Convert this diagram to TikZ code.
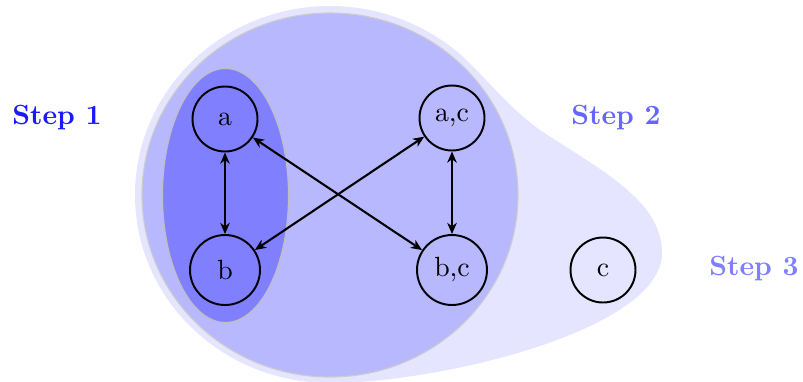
\documentclass[tikz,border=0pt]{standalone}
\usepackage{tikz}
\usetikzlibrary{arrows.meta}

\begin{document}
\begin{tikzpicture}[x=0.36pt,y=0.36pt,yscale=-1,xscale=1,
  state/.style={circle,draw,line width=0.7pt,minimum size=23.4pt,inner sep=0pt},
  tall/.style={minimum size=25.2pt},
  link/.style={{Stealth[length=4pt,width=3.4pt,inset=1.2pt]}-{Stealth[length=4pt,width=3.4pt,inset=1.2pt]},line width=0.75pt},
  steplabel/.style={font=\bfseries}]
\useasboundingbox (0,0) rectangle (803,381);

%Shape: Blob (step 3)
\fill [blue!10] (330,6) .. controls (222,6) and (135,91) .. (135,195) .. controls (135,299) and (222,383) .. (330,383) .. controls (440,383) and (662,330) .. (662,253) .. controls (662,200) and (600,170) .. (540,130) .. controls (505,105) and (480,70) .. (455,50) .. controls (420,22) and (376,6) .. (330,6) -- cycle;
%Shape: Ellipse (step 2)
\draw [draw=black!20,fill=blue!28,line width=0.4pt] (330,195) ellipse [x radius=188, y radius=182];
%Shape: Ellipse (step 1)
\draw [draw=black!25,fill=blue!50,line width=0.4pt] (225.5,195.5) ellipse [x radius=63, y radius=127];

% States
\node [state] (a) at (225,119) {a};
\node [state,tall] (b) at (225,270) {b};
\node [state] (ac) at (452,118) {a,c};
\node [state,tall] (bc) at (452,270) {b,c};
\node [state] (c) at (603,270) {c};

% Links
\draw [link] (a) -- (b);
\draw [link] (ac) -- (bc);
\draw [link] (a) -- (bc);
\draw [link] (b) -- (ac);

% Text Node
\node [steplabel,text=blue!90] (s1) at (57,118) {Step 1};
% Text Node
\node [steplabel,text=blue!60] (s2) at (616,118) {Step 2};
% Text Node
\node [steplabel,text=blue!50] (s3) at (754,269) {Step 3};

\end{tikzpicture}
\end{document}
